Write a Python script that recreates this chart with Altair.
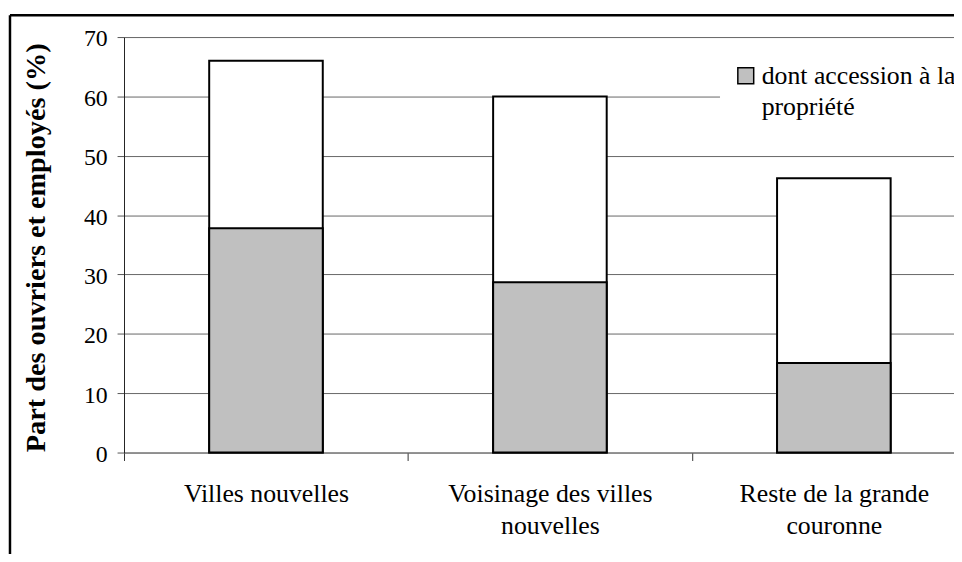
import altair as alt
import pandas as pd

categories = ["Villes nouvelles", "Voisinage des villes\nnouvelles", "Reste de la grande\ncouronne"]
total_values = [66.0, 60.0, 46.2]
accession_values = [37.8, 28.7, 15.1]
legend_label = "dont accession à la\npropriété"
y_title = "Part des ouvriers et employés (%)"
y_ticks = [0, 10, 20, 30, 40, 50, 60, 70]

df = pd.DataFrame({
    "cat": categories,
    "total": total_values,
    "access": accession_values,
    "serie": [legend_label] * len(categories),
})

FONT = "Liberation Serif"

x_enc = alt.X(
    "cat:N",
    sort=categories,
    scale=alt.Scale(paddingInner=0, paddingOuter=0),
    axis=alt.Axis(
        title=None,
        labelAngle=0,
        labelExpr="split(datum.label, '\\n')",
        labelFont=FONT,
        labelFontSize=26,
        labelColor="#000",
        labelLineHeight=33,
        labelPadding=20,
        labelLimit=400,
        tickBand="extent",
        tickSize=8,
        tickColor="#333",
        domainColor="#777",
        grid=False,
    ),
)

y_axis = alt.Axis(
    title=y_title,
    titleFont=FONT,
    titleFontSize=28.5,
    titleFontWeight="bold",
    titleColor="#000",
    titleAngle=270,
    titleX=-80,
    titleY=212,
    titleAlign="center",
    titleBaseline="alphabetic",
    values=y_ticks,
    labelFont=FONT,
    labelFontSize=24,
    labelColor="#000",
    labelPadding=10,
    labelOffset=2,
    tickSize=7,
    tickColor="#555",
    domainColor="#222",
    grid=True,
    gridColor="#666",
    gridWidth=1,
)

y_scale = alt.Scale(domain=[0, 70], nice=False)

base = alt.Chart(df)

white = base.mark_bar(fill="white", stroke="black", strokeWidth=2, width={"band": 0.4}).encode(
    x=x_enc,
    y=alt.Y("total:Q", scale=y_scale, axis=y_axis),
)

gray = base.mark_bar(stroke="black", strokeWidth=2, width={"band": 0.4}).encode(
    x=x_enc,
    y=alt.Y("access:Q", scale=y_scale, axis=y_axis),
    color=alt.Color(
        "serie:N",
        scale=alt.Scale(domain=[legend_label], range=["#c0c0c0"]),
        legend=alt.Legend(
            title=None,
            orient="none",
            legendX=601,
            legendY=13,
            padding=13,
            fillColor="white",
            strokeColor="white",
            symbolType="square",
            symbolSize=256,
            symbolStrokeColor="black",
            symbolStrokeWidth=1.5,
            labelFont=FONT,
            labelFontSize=26,
            labelColor="#000",
            labelLimit=600,
            labelOffset=3,
            labelBaseline="middle",
            labelExpr="split(datum.label, '\\n')",
        ),
    ),
)

one = alt.Data(values=[{"k": 1}])
border_top = alt.Chart(one).mark_rule(color="black", strokeWidth=2.5).encode(
    x=alt.value(-115), x2=alt.value(900), y=alt.value(-22)
)
border_left = alt.Chart(one).mark_rule(color="black", strokeWidth=2.5).encode(
    x=alt.value(-115), y=alt.value(-22), y2=alt.value(600)
)

chart = alt.layer(white, gray, border_top, border_left).properties(
    width=859,
    height=419,
    padding={"left": 117, "top": 27, "right": -22, "bottom": 100},
    autosize=alt.AutoSizeParams(type="none"),
    background="white",
).configure_view(strokeWidth=0).configure(
    style={"guide-label": {"lineHeight": 32}}
)

chart.save("out.html", embed_options={"renderer": "svg", "actions": False})
